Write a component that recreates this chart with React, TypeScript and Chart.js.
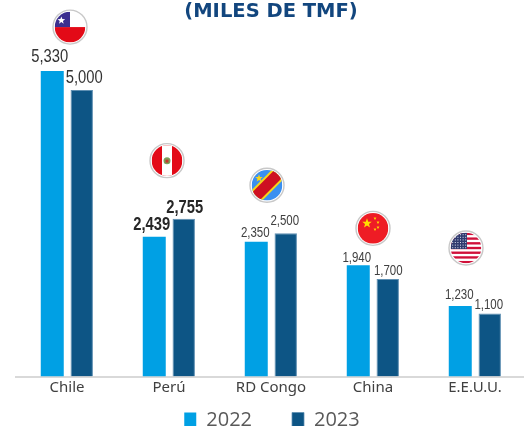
import React, { useEffect, useRef } from "react";
import { Chart, registerables } from "chart.js";

Chart.register(...registerables);

const categories = ["Chile", "Perú", "RD Congo", "China", "E.E.U.U."];
const values2022 = [5330, 2439, 2350, 1940, 1230];
const values2023 = [5000, 2755, 2500, 1700, 1100];
const COLOR_2022 = "#00A0E4";
const COLOR_2023 = "#0D5585";
const NARROW = '"Liberation Sans", sans-serif';
const NARROW_SCALE = 0.82;

// per-label font and nudge from the bar's top centre: [dataset][category]
const labelStyle = [
  [
    { size: 18, bold: false, dx: -2.5, dy: -9, color: "#333333" },
    { size: 18, bold: true, dx: -2.5, dy: -7, color: "#262626" },
    { size: 14, bold: false, dx: -1, dy: -5, color: "#404040" },
    { size: 14, bold: false, dx: -1.5, dy: -3.5, color: "#404040" },
    { size: 14, bold: false, dx: -1, dy: -7, color: "#404040" },
  ],
  [
    { size: 18, bold: false, dx: 2.5, dy: -7, color: "#333333" },
    { size: 18, bold: true, dx: 1, dy: -6, color: "#262626" },
    { size: 14, bold: false, dx: -1, dy: -8, color: "#404040" },
    { size: 14, bold: false, dx: 0.5, dy: -4, color: "#404040" },
    { size: 14, bold: false, dx: -1, dy: -4.5, color: "#404040" },
  ],
];

// flag badge offset from the category centre and from the taller bar's top
const flagOffset = [
  { dx: 3, dy: -44 },
  { dx: -2, dy: -58 },
  { dx: -4, dy: -48 },
  { dx: 0, dy: -37 },
  { dx: -9, dy: -58 },
];

function star(ctx: CanvasRenderingContext2D, x: number, y: number, r: number, color: string) {
  ctx.fillStyle = color;
  ctx.beginPath();
  for (let i = 0; i < 10; i++) {
    const a = -Math.PI / 2 + (i * Math.PI) / 5;
    const rr = i % 2 === 0 ? r : r * 0.42;
    ctx.lineTo(x + Math.cos(a) * rr, y + Math.sin(a) * rr);
  }
  ctx.closePath();
  ctx.fill();
}

const flagPainters: ((c: CanvasRenderingContext2D, r: number) => void)[] = [
  (c, r) => {
    c.fillStyle = "#ffffff";
    c.fillRect(-r, -r, 2 * r, r);
    c.fillStyle = "#E30A17";
    c.fillRect(-r, 0, 2 * r, r);
    c.fillStyle = "#3B2F8F";
    c.fillRect(-r, -r, r, r);
    star(c, -r / 2 - 1, -r / 2 + 1, 4, "#ffffff");
  },
  (c, r) => {
    c.fillStyle = "#E30A17";
    c.fillRect(-r, -r, 2 * r, 2 * r);
    c.fillStyle = "#ffffff";
    c.fillRect(-5, -r, 10, 2 * r);
    c.fillStyle = "#7BA05B";
    c.beginPath();
    c.arc(0, 0, 3.5, 0, Math.PI * 2);
    c.fill();
    c.fillStyle = "#C0392B";
    c.fillRect(-1.5, -1, 3, 3);
  },
  (c, r) => {
    c.fillStyle = "#3A8FF0";
    c.fillRect(-r, -r, 2 * r, 2 * r);
    c.save();
    c.rotate(-Math.PI / 4);
    c.fillStyle = "#F7D618";
    c.fillRect(-2 * r, -7.5, 4 * r, 15);
    c.fillStyle = "#CE1021";
    c.fillRect(-2 * r, -5.5, 4 * r, 11);
    c.restore();
    star(c, -8, -7, 4, "#F7D618");
  },
  (c, r) => {
    c.fillStyle = "#EE1C25";
    c.fillRect(-r, -r, 2 * r, 2 * r);
    star(c, -6, -5, 5, "#FFDE00");
    star(c, 2, -10, 1.7, "#FFDE00");
    star(c, 5, -6, 1.7, "#FFDE00");
    star(c, 5, -1, 1.7, "#FFDE00");
    star(c, 2, 1, 1.7, "#FFDE00");
  },
  (c, r) => {
    c.fillStyle = "#ffffff";
    c.fillRect(-r, -r, 2 * r, 2 * r);
    c.fillStyle = "#D0103A";
    for (let i = 0; i < 7; i++) c.fillRect(-r, -r + (i * 2 * r) / 6.5, 2 * r, r / 6.5);
    c.fillStyle = "#2F3A6F";
    c.fillRect(-r, -r, r + 1, r + 1);
    c.fillStyle = "#dfe3f0";
    for (let i = 0; i < 6; i++) for (let j = 0; j < 6; j++) c.fillRect(-r + 1.5 + i * 2.6, -r + 1.5 + j * 2.6, 1, 1);
  },
];

const overlays = {
  id: "overlays",
  beforeLayout(chart: any) {
    const legend = chart.legend;
    if (legend && !legend.__patched) {
      legend.__patched = true;
      const fit = legend.fit;
      legend.fit = function () {
        fit.call(this);
        this.height = 41.5;
      };
    }
  },
  afterLayout(chart: any) {
    const legend = chart.legend;
    legend.top = 370;
    legend.bottom = 440;
    legend.left += 1;
    legend.right += 1;
  },
  afterDatasetsDraw(chart: any) {
    const ctx: CanvasRenderingContext2D = chart.ctx;
    ctx.save();
    ctx.textAlign = "center";
    ctx.textBaseline = "alphabetic";
    chart.data.datasets.forEach((ds: any, d: number) => {
      const meta = chart.getDatasetMeta(d);
      ds.data.forEach((v: number, i: number) => {
        const s = labelStyle[d][i];
        ctx.save();
        ctx.font = `${s.bold ? "bold " : ""}${s.size}px ${NARROW}`;
        ctx.fillStyle = s.color;
        ctx.translate(meta.data[i].x + s.dx, meta.data[i].y + s.dy);
        ctx.scale(NARROW_SCALE, 1);
        ctx.fillText(v.toLocaleString("en-US"), 0, 0);
        ctx.restore();
      });
    });
    const xs = chart.scales.x;
    const ys = chart.scales.y;
    categories.forEach((_, i) => {
      const cx = xs.getPixelForValue(i) + flagOffset[i].dx;
      const cy = ys.getPixelForValue(Math.max(values2022[i], values2023[i])) + flagOffset[i].dy;
      ctx.save();
      ctx.beginPath();
      ctx.arc(cx, cy, 17, 0, Math.PI * 2);
      ctx.fillStyle = "#ffffff";
      ctx.fill();
      ctx.lineWidth = 1.4;
      ctx.strokeStyle = "#C8C8C8";
      ctx.stroke();
      ctx.beginPath();
      ctx.arc(cx, cy, 15.3, 0, Math.PI * 2);
      ctx.clip();
      ctx.translate(cx, cy);
      flagPainters[i](ctx, 15.3);
      ctx.restore();
    });
    ctx.restore();
  },
};

export default function App() {
  const ref = useRef<HTMLCanvasElement>(null);
  useEffect(() => {
    const chart = new Chart(ref.current!, {
      type: "bar",
      data: {
        labels: categories,
        datasets: [
          { label: "2022", data: values2022, backgroundColor: COLOR_2022, barPercentage: 0.78, categoryPercentage: 0.578 },
          { label: "2023", data: values2023, backgroundColor: COLOR_2023, borderColor: "#5E8FB2", borderWidth: { left: 1, right: 1, top: 1, bottom: 0 }, barPercentage: 0.76, categoryPercentage: 0.578 },
        ],
      },
      options: {
        responsive: false,
        animation: false,
        layout: { padding: { left: 16, right: 4, top: 0, bottom: 0 } },
        plugins: {
          tooltip: { enabled: false },
          title: {
            display: true,
            text: "(MILES DE TMF)",
            fullSize: false,
            color: "#12467E",
            font: { family: '"DejaVu Sans", sans-serif', size: 19.5, weight: "bold" },
            padding: { top: 0, bottom: 0 },
          },
          legend: {
            position: "bottom",
            fullSize: false,
            labels: {
              boxWidth: 12,
              boxHeight: 15,
              padding: 40,
              color: "#595959",
              font: { family: '"Open Sans", sans-serif', size: 20 },
            },
          },
        },
        scales: {
          x: {
            grid: { display: false, drawTicks: false },
            border: { color: "#D9D9D9", width: 2 },
            ticks: { color: "#404040", font: { family: '"Noto Sans", sans-serif', size: 15 }, padding: 2, maxRotation: 0 },
          },
          y: { display: false, min: 0, max: 6162 },
        },
      },
      plugins: [overlays],
    } as any);
    return () => chart.destroy();
  }, []);
  return (
    <div style={{ position: "fixed", left: 0, top: 0, width: 524, height: 426, overflow: "hidden", background: "#fff" }}>
      <canvas ref={ref} width={530} height={440} style={{ display: "block" }} />
    </div>
  );
}
